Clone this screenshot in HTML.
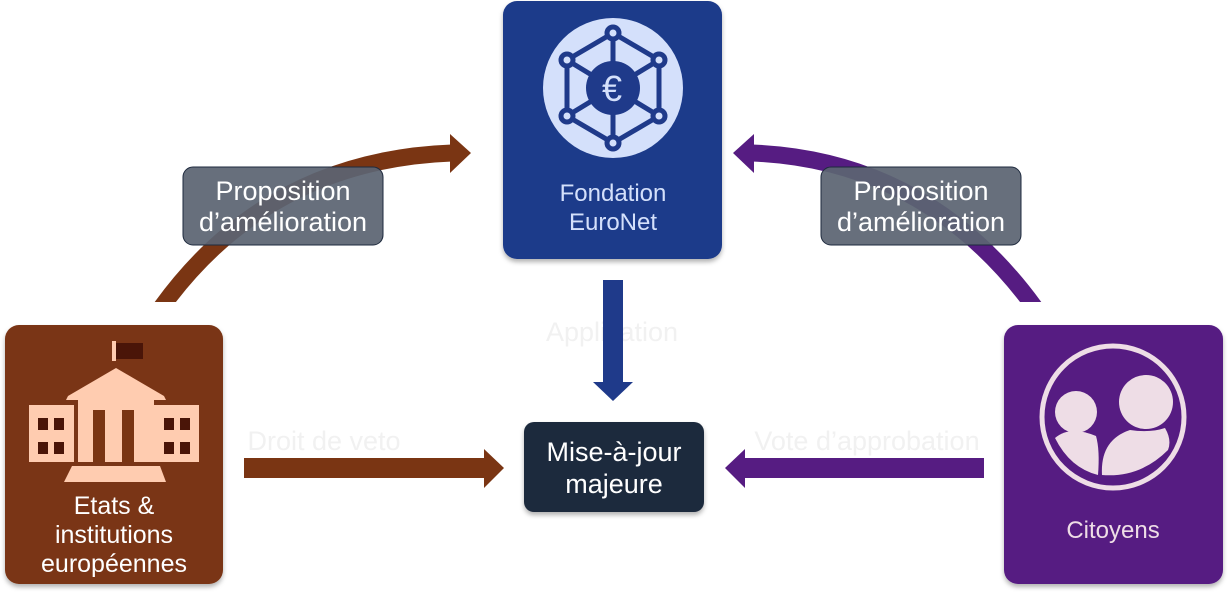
<!DOCTYPE html>
<html><head><meta charset="utf-8"><style>
html,body{margin:0;padding:0;background:#fff;width:1228px;height:593px;overflow:hidden}
svg{display:block;font-family:"Liberation Sans",Arial,sans-serif}
</style></head><body>
<svg width="1228" height="593" viewBox="0 0 1228 593" xmlns="http://www.w3.org/2000/svg">
<defs>
<filter id="sh" x="-10%" y="-10%" width="120%" height="120%"><feDropShadow dx="0" dy="3" stdDeviation="2.5" flood-color="#000" flood-opacity="0.3"/></filter>
<clipPath id="cl"><rect x="0" y="0" width="1228" height="302"/></clipPath>
</defs>
<!-- curved arrows -->
<g clip-path="url(#cl)">
<path d="M158,312 Q265,160 452,153" fill="none" stroke="#7a3513" stroke-width="17"/>
<path d="M1038,312 Q930,160 752,153" fill="none" stroke="#561c82" stroke-width="17"/>
</g>
<polygon points="450,134 471,153 450,173" fill="#7a3513"/>
<polygon points="754,134 733,153 754,173" fill="#561c82"/>
<!-- faint labels -->
<text x="612" y="341" font-size="27" fill="#f1f1f1" text-anchor="middle">Application</text>
<text x="324" y="450" font-size="27" fill="#f1f1f1" text-anchor="middle">Droit de veto</text>
<text x="867" y="450" font-size="27" fill="#f1f1f1" text-anchor="middle">Vote d’approbation</text>
<!-- straight arrows -->
<rect x="603" y="280" width="20" height="103" fill="#1f3a8a"/>
<polygon points="593,382 633,382 613,401" fill="#1f3a8a"/>
<rect x="244" y="458" width="241" height="20" fill="#7a3513"/>
<polygon points="484,449 504,468 484,488" fill="#7a3513"/>
<rect x="744" y="458" width="240" height="20" fill="#561c82"/>
<polygon points="745,449 725,468 745,488" fill="#561c82"/>
<!-- label boxes -->
<rect x="183" y="167" width="200" height="78" rx="10" fill="#5b6472" fill-opacity="0.93" stroke="#1e2a3e" stroke-width="1"/>
<text x="283" y="200" font-size="27" fill="#fff" text-anchor="middle">Proposition</text>
<text x="283" y="231" font-size="27" fill="#fff" text-anchor="middle">d’amélioration</text>
<rect x="821" y="167" width="200" height="78" rx="10" fill="#5b6472" fill-opacity="0.93" stroke="#1e2a3e" stroke-width="1"/>
<text x="921" y="200" font-size="27" fill="#fff" text-anchor="middle">Proposition</text>
<text x="921" y="231" font-size="27" fill="#fff" text-anchor="middle">d’amélioration</text>
<!-- center box -->
<rect x="524" y="422" width="180" height="90" rx="10" fill="#1e2a3e" filter="url(#sh)"/>
<text x="614" y="461" font-size="27" fill="#fff" text-anchor="middle">Mise-à-jour</text>
<text x="614" y="493" font-size="27" fill="#fff" text-anchor="middle">majeure</text>
<!-- blue box -->
<rect x="503" y="1" width="219" height="258" rx="14" fill="#1f3a8a" filter="url(#sh)"/>
<circle cx="613" cy="88" r="70" fill="#d4e0fb"/>
<g stroke="#1f3a8a" stroke-width="5" fill="none">
<polygon points="613,33 659,60 659,116 613,143 567,116 567,60"/>
<line x1="613" y1="33" x2="613" y2="143"/>
<line x1="567" y1="60" x2="659" y2="116"/>
<line x1="659" y1="60" x2="567" y2="116"/>
</g>
<g fill="#d4e0fb" stroke="#1f3a8a" stroke-width="5">
<circle cx="613" cy="33" r="6"/><circle cx="659" cy="60" r="6"/><circle cx="659" cy="116" r="6"/>
<circle cx="613" cy="143" r="6"/><circle cx="567" cy="116" r="6"/><circle cx="567" cy="60" r="6"/>
</g>
<circle cx="613" cy="88" r="27" fill="#1f3a8a"/>
<text x="612" y="101" font-size="36" fill="#d4e0fb" text-anchor="middle">€</text>
<text x="613" y="201" font-size="24" fill="#d4e0fb" text-anchor="middle">Fondation</text>
<text x="613" y="230" font-size="24" fill="#d4e0fb" text-anchor="middle">EuroNet</text>
<!-- brown box -->
<rect x="5" y="325" width="218" height="259" rx="14" fill="#7a3513" filter="url(#sh)"/>
<g fill="#ffccb0">
<rect x="112" y="341" width="4" height="20"/>
<polygon points="68,396 116,368 164,396 166,400 66,400"/>
<rect x="78" y="400" width="76" height="62"/>
<rect x="29" y="405" width="45" height="57"/>
<rect x="154" y="405" width="45" height="57"/>
<polygon points="72,466 160,466 166,482 64,482"/>
</g>
<rect x="116" y="343" width="27" height="16" fill="#4a1508"/>
<g fill="#7a3513"><rect x="93" y="410" width="12" height="52"/><rect x="122" y="410" width="12" height="52"/></g>
<g fill="#4a1508">
<rect x="38" y="418" width="10" height="12"/><rect x="54" y="418" width="10" height="12"/>
<rect x="38" y="442" width="10" height="12"/><rect x="54" y="442" width="10" height="12"/>
<rect x="164" y="418" width="10" height="12"/><rect x="180" y="418" width="10" height="12"/>
<rect x="164" y="442" width="10" height="12"/><rect x="180" y="442" width="10" height="12"/>
</g>
<text x="114" y="514" font-size="25" fill="#fff" text-anchor="middle">Etats &amp;</text>
<text x="114" y="543" font-size="25" fill="#fff" text-anchor="middle">institutions</text>
<text x="114" y="572" font-size="25" fill="#fff" text-anchor="middle">européennes</text>
<!-- purple box -->
<rect x="1004" y="325" width="219" height="259" rx="14" fill="#561c82" filter="url(#sh)"/>
<circle cx="1113" cy="417" r="71" fill="none" stroke="#eedde6" stroke-width="5"/>
<g fill="#eedde6">
<circle cx="1076" cy="412" r="21"/>
<path d="M1055,438 Q1070,425 1096,436 Q1100,450 1098,475 Q1070,468 1055,438 Z"/>
<circle cx="1146" cy="402" r="27"/>
<path d="M1102,475 Q1100,440 1130,430 Q1150,433 1165,428 Q1172,440 1168,450 Q1140,478 1102,475 Z"/>
</g>
<text x="1113" y="538" font-size="24" fill="#eedde6" text-anchor="middle">Citoyens</text>
</svg>
</body></html>
